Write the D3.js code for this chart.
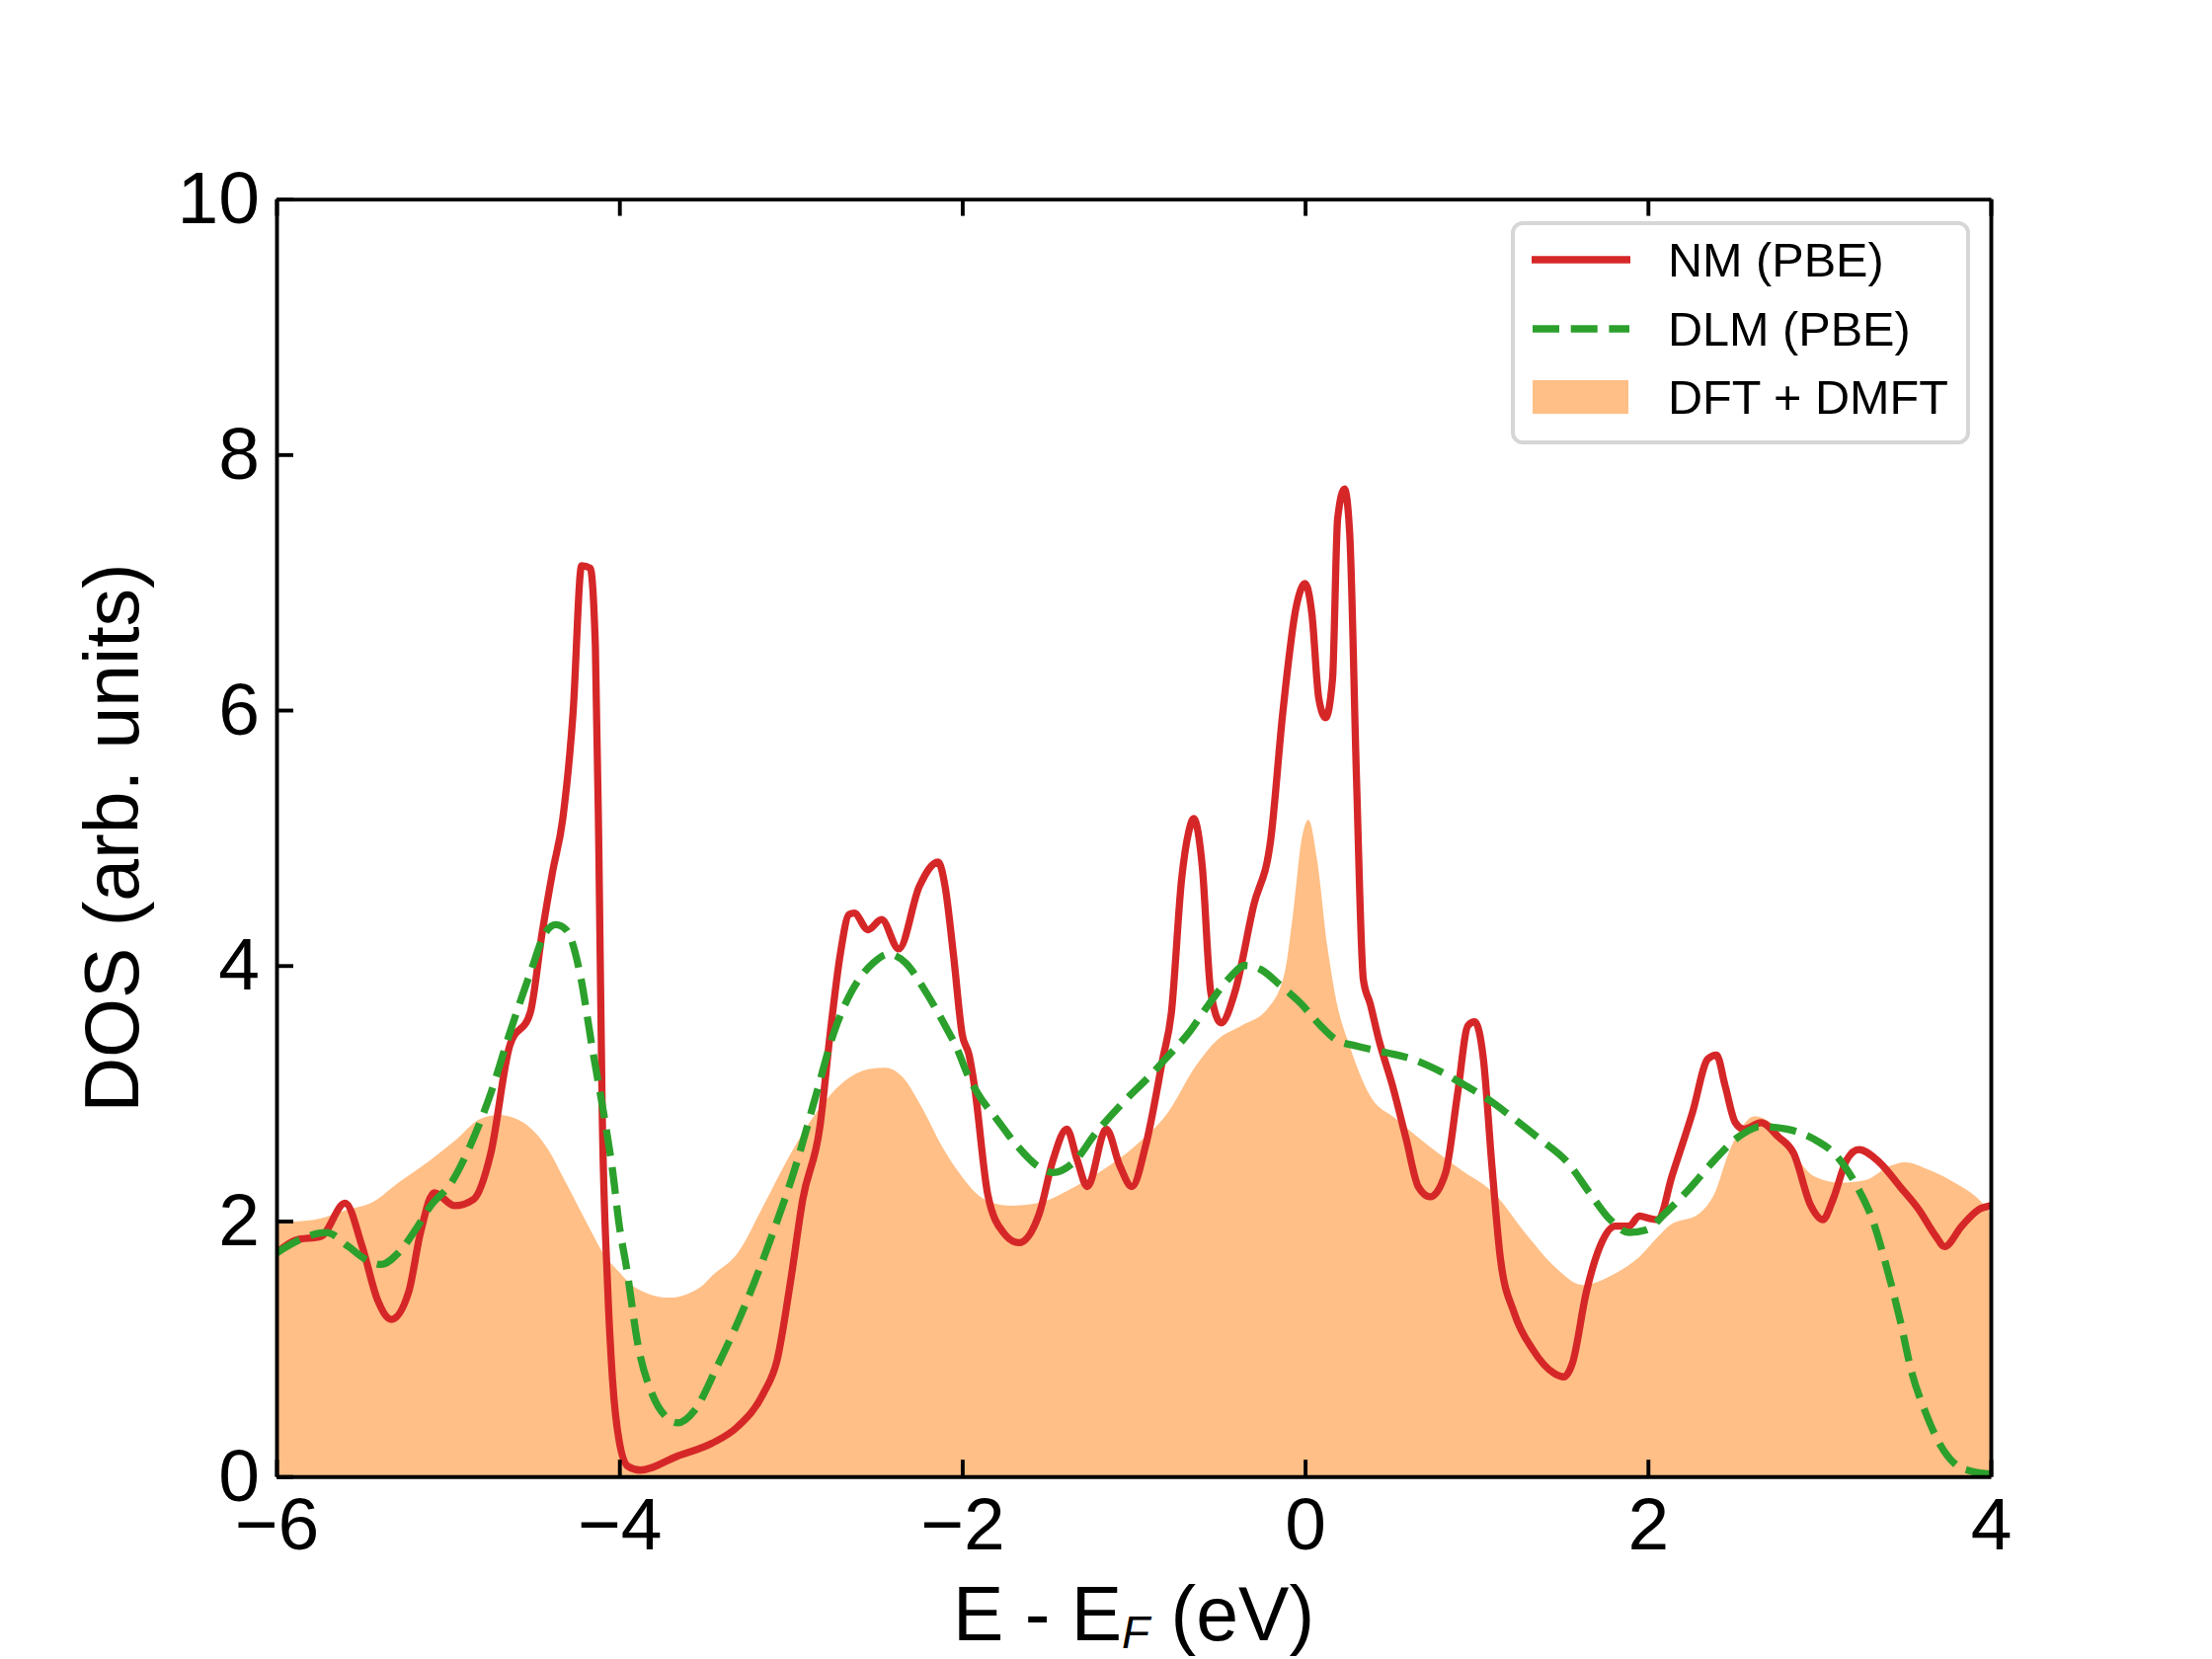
<!DOCTYPE html>
<html>
<head>
<meta charset="utf-8">
<script src="https://cdn.jsdelivr.net/npm/d3@7"></script>
<style>
  body { margin: 0; background: #fff; }
  text { font-family: 'Liberation Sans', Arial, Helvetica, sans-serif; }
</style>
</head>
<body>
<div id="vis"></div>
<script>
// NM (PBE) total DOS
var nmE = [-6.00, -5.89, -5.74, -5.60, -5.50, -5.41, -5.33, -5.23, -5.16, -5.08,
  -4.96, -4.85, -4.75, -4.64, -4.52, -4.45, -4.39, -4.33, -4.27, -4.22,
  -4.17, -4.14, -4.12, -4.10, -4.07, -4.04, -4.00, -3.95, -3.88, -3.66,
  -3.46, -3.31, -3.16, -3.08, -3.00, -2.93, -2.83, -2.77, -2.71, -2.66,
  -2.63, -2.55, -2.47, -2.37, -2.25, -2.14, -2.10, -2.05, -2.00, -1.96,
  -1.93, -1.85, -1.76, -1.67, -1.55, -1.47, -1.39, -1.33, -1.27, -1.16,
  -1.08, -1.01, -0.93, -0.83, -0.78, -0.72, -0.68, -0.65, -0.60, -0.55,
  -0.49, -0.41, -0.30, -0.20, -0.13, -0.05, 0.00, 0.04, 0.08, 0.12,
  0.16, 0.19, 0.23, 0.26, 0.30, 0.34, 0.38, 0.43, 0.51, 0.59,
  0.66, 0.73, 0.82, 0.89, 0.95, 0.99, 1.04, 1.09, 1.14, 1.22,
  1.33, 1.45, 1.51, 1.56, 1.64, 1.72, 1.81, 1.89, 1.95, 2.01,
  2.06, 2.14, 2.26, 2.35, 2.40, 2.45, 2.51, 2.56, 2.66, 2.76,
  2.85, 2.95, 3.02, 3.08, 3.16, 3.23, 3.35, 3.47, 3.58, 3.68,
  3.73, 3.83, 3.93, 4.00];
var nmDos = [1.75, 1.85, 1.88, 2.14, 1.80, 1.38, 1.23, 1.44, 1.91, 2.22,
  2.12, 2.17, 2.53, 3.37, 3.63, 4.26, 4.73, 5.15, 5.98, 7.13,
  7.11, 6.50, 4.94, 2.85, 1.54, 0.76, 0.27, 0.08, 0.05, 0.16,
  0.26, 0.39, 0.65, 0.91, 1.54, 2.17, 2.74, 3.47, 4.10, 4.40,
  4.41, 4.28, 4.36, 4.13, 4.62, 4.81, 4.62, 4.07, 3.46, 3.30,
  3.07, 2.20, 1.91, 1.83, 2.06, 2.48, 2.72, 2.48, 2.27, 2.72,
  2.43, 2.27, 2.59, 3.27, 3.63, 4.68, 5.04, 5.15, 4.78, 3.79,
  3.55, 3.79, 4.47, 4.99, 5.98, 6.82, 6.99, 6.75, 6.09, 5.94,
  6.24, 7.50, 7.73, 7.39, 5.46, 3.89, 3.70, 3.42, 3.06, 2.64,
  2.27, 2.19, 2.38, 3.00, 3.53, 3.56, 3.27, 2.43, 1.70, 1.28,
  0.99, 0.81, 0.78, 0.89, 1.44, 1.80, 1.96, 1.96, 2.04, 2.02,
  2.01, 2.35, 2.85, 3.27, 3.30, 3.06, 2.77, 2.72, 2.77, 2.66,
  2.53, 2.12, 2.01, 2.17, 2.48, 2.56, 2.46, 2.27, 2.09, 1.88,
  1.80, 1.96, 2.09, 2.12];

// DLM (PBE) total DOS
var dlmE = [-6.00, -5.87, -5.71, -5.58, -5.48, -5.39, -5.29, -5.19, -5.10, -4.98,
  -4.87, -4.75, -4.64, -4.52, -4.43, -4.37, -4.31, -4.23, -4.16, -4.08,
  -4.04, -4.00, -3.96, -3.89, -3.81, -3.73, -3.66, -3.56, -3.43, -3.27,
  -3.12, -2.96, -2.85, -2.75, -2.64, -2.52, -2.43, -2.33, -2.22, -2.10,
  -2.03, -1.97, -1.91, -1.80, -1.68, -1.56, -1.47, -1.35, -1.22, -1.06,
  -0.91, -0.80, -0.68, -0.57, -0.45, -0.35, -0.26, -0.14, -0.03, 0.09,
  0.18, 0.30, 0.47, 0.62, 0.76, 0.91, 1.07, 1.22, 1.37, 1.53,
  1.66, 1.78, 1.89, 1.99, 2.10, 2.24, 2.39, 2.53, 2.66, 2.81,
  2.97, 3.10, 3.22, 3.31, 3.39, 3.47, 3.54, 3.62, 3.70, 3.79,
  3.89, 4.00];
var dlmDos = [1.75, 1.85, 1.91, 1.80, 1.70, 1.66, 1.75, 1.93, 2.12, 2.30,
  2.59, 3.00, 3.47, 3.94, 4.26, 4.32, 4.28, 3.94, 3.37, 2.75,
  2.40, 1.96, 1.65, 1.02, 0.65, 0.47, 0.42, 0.52, 0.86, 1.33,
  1.85, 2.48, 3.00, 3.47, 3.81, 4.02, 4.09, 4.02, 3.81, 3.53,
  3.35, 3.15, 3.00, 2.80, 2.59, 2.43, 2.38, 2.46, 2.69, 2.93,
  3.13, 3.29, 3.47, 3.68, 3.89, 4.00, 3.97, 3.84, 3.71, 3.53,
  3.42, 3.37, 3.32, 3.27, 3.19, 3.08, 2.95, 2.80, 2.64, 2.46,
  2.22, 2.01, 1.91, 1.93, 2.06, 2.25, 2.48, 2.66, 2.74, 2.72,
  2.64, 2.51, 2.27, 2.01, 1.65, 1.23, 0.81, 0.50, 0.26, 0.10,
  0.04, 0.02];

// DFT + DMFT spectral function (filled)
var dmftE = [-6.00, -5.78, -5.58, -5.45, -5.29, -5.10, -4.95, -4.81, -4.70, -4.56,
  -4.43, -4.30, -4.18, -4.08, -4.00, -3.92, -3.71, -3.52, -3.46, -3.31,
  -3.16, -3.00, -2.85, -2.70, -2.54, -2.45, -2.35, -2.24, -2.12, -2.03,
  -1.87, -1.72, -1.56, -1.37, -1.18, -0.99, -0.80, -0.64, -0.51, -0.37,
  -0.22, -0.12, -0.07, -0.02, 0.02, 0.07, 0.13, 0.18, 0.26, 0.38,
  0.53, 0.72, 0.91, 1.10, 1.30, 1.45, 1.62, 1.81, 1.95, 2.06,
  2.12, 2.30, 2.39, 2.47, 2.55, 2.62, 2.74, 2.85, 2.97, 3.12,
  3.27, 3.41, 3.50, 3.64, 3.79, 3.93, 4.00];
var dmftDos = [1.99, 2.01, 2.09, 2.14, 2.30, 2.48, 2.64, 2.80, 2.83, 2.77,
  2.59, 2.27, 1.96, 1.72, 1.60, 1.49, 1.40, 1.49, 1.57, 1.75,
  2.12, 2.53, 2.85, 3.08, 3.19, 3.20, 3.13, 2.90, 2.59, 2.40,
  2.17, 2.12, 2.14, 2.25, 2.40, 2.59, 2.85, 3.21, 3.42, 3.53,
  3.66, 3.94, 4.41, 4.99, 5.14, 4.83, 4.15, 3.74, 3.37, 2.98,
  2.80, 2.59, 2.40, 2.22, 1.88, 1.65, 1.50, 1.59, 1.72, 1.88,
  1.96, 2.06, 2.22, 2.53, 2.74, 2.82, 2.74, 2.53, 2.35, 2.30,
  2.32, 2.43, 2.46, 2.40, 2.30, 2.17, 2.06];

var xTicks = [-6, -4, -2, 0, 2, 4];
var yTicks = [0, 2, 4, 6, 8, 10];
var seriesNames = ['NM (PBE)', 'DLM (PBE)', 'DFT + DMFT'];

// figure geometry (matplotlib-like 6.4x4.8 in at 350 dpi)
var width = 2240;
var height = 1680;
var margin = { top: 201.6, left: 280, bottom: 184.8, right: 224 };
var plotW = width - margin.left - margin.right;
var plotH = height - margin.top - margin.bottom;

var red = '#d62728';
var green = '#2ca02c';
var orange = '#ff7f0e';
var lw = 7.3;

var zip = function (xs, ys) {
  return xs.map(function (x, i) { return { e: x, v: ys[i] }; });
};

var svg = d3.select('#vis').append('svg')
  .attr('width', width)
  .attr('height', height);

var g = svg.append('g')
  .attr('transform', 'translate(' + margin.left + ',' + margin.top + ')');

var x = d3.scaleLinear().domain([-6, 4]).range([0, plotW]);
var y = d3.scaleLinear().domain([0, 10]).range([plotH, 0]);

g.append('clipPath').attr('id', 'clip')
  .append('rect').attr('width', plotW).attr('height', plotH);

var plot = g.append('g').attr('clip-path', 'url(#clip)');

// DMFT fill first so the lines sit on top
var area = d3.area()
  .x(function (d) { return x(d.e); })
  .y0(y(0))
  .y1(function (d) { return y(d.v); })
  .curve(d3.curveMonotoneX);

plot.append('path')
  .datum(zip(dmftE, dmftDos))
  .attr('d', area)
  .attr('fill', orange)
  .attr('fill-opacity', 0.5);

var line = d3.line()
  .x(function (d) { return x(d.e); })
  .y(function (d) { return y(d.v); })
  .curve(d3.curveMonotoneX);

plot.append('path')
  .datum(zip(nmE, nmDos))
  .attr('d', line)
  .attr('fill', 'none')
  .attr('stroke', red)
  .attr('stroke-width', lw)
  .attr('stroke-linejoin', 'round');

plot.append('path')
  .datum(zip(dlmE, dlmDos))
  .attr('d', line)
  .attr('fill', 'none')
  .attr('stroke', green)
  .attr('stroke-width', lw)
  .attr('stroke-dasharray', (3.7 * lw) + ',' + (1.6 * lw));

// axes, ticks pointing inward
var fmt = function (d) { return d < 0 ? '\u2212' + Math.abs(d) : '' + d; };

var xAxis = d3.axisBottom(x).tickValues(xTicks).tickFormat(fmt)
  .tickSizeInner(-17).tickSizeOuter(0).tickPadding(21);
var xAxisTop = d3.axisTop(x).tickValues(xTicks).tickFormat('')
  .tickSizeInner(-17).tickSizeOuter(0);
var yAxis = d3.axisLeft(y).tickValues(yTicks).tickFormat(fmt)
  .tickSizeInner(-17).tickSizeOuter(0).tickPadding(17);
var yAxisRight = d3.axisRight(y).tickValues([]).tickSizeOuter(0);

var styleAxis = function (sel) {
  sel.select('.domain').attr('stroke', '#000').attr('stroke-width', 3.9);
  sel.selectAll('.tick line').attr('stroke', '#000').attr('stroke-width', 3.9);
  sel.selectAll('.tick text')
    .attr('fill', '#000')
    .style('font-size', '75px')
    .style('font-family', "'Liberation Sans', Arial, Helvetica, sans-serif");
};

g.append('g').attr('class', 'x axis')
  .attr('transform', 'translate(0,' + plotH + ')')
  .call(xAxis).call(styleAxis);
g.append('g').attr('class', 'x axis top')
  .call(xAxisTop).call(styleAxis);
g.append('g').attr('class', 'y axis')
  .call(yAxis).call(styleAxis);
g.append('g').attr('class', 'y axis right')
  .attr('transform', 'translate(' + plotW + ',0)')
  .call(yAxisRight).call(styleAxis);

// axis labels
var xLabel = svg.append('text')
  .attr('x', margin.left + plotW / 2)
  .attr('y', 1661)
  .attr('text-anchor', 'middle')
  .style('font-size', '77px')
  .attr('fill', '#000');
xLabel.append('tspan').text('E - E');
xLabel.append('tspan')
  .attr('dy', 8)
  .style('font-size', '46px')
  .style('font-style', 'italic')
  .text('F');
xLabel.append('tspan')
  .attr('dy', -8)
  .text(' (eV)');

svg.append('text')
  .attr('transform', 'translate(140,' + (margin.top + plotH / 2) + ') rotate(-90)')
  .attr('text-anchor', 'middle')
  .style('font-size', '77px')
  .attr('fill', '#000')
  .text('DOS (arb. units)');

// legend
var legend = svg.append('g').attr('transform', 'translate(1532,226)');
legend.append('rect')
  .attr('width', 461)
  .attr('height', 222)
  .attr('rx', 10)
  .attr('fill', '#fff')
  .attr('fill-opacity', 0.8)
  .attr('stroke', '#d6d6d6')
  .attr('stroke-width', 4);

var rowY = [37, 107, 176];
legend.append('line')
  .attr('x1', 19).attr('x2', 119)
  .attr('y1', rowY[0]).attr('y2', rowY[0])
  .attr('stroke', red).attr('stroke-width', lw);
legend.append('line')
  .attr('x1', 20).attr('x2', 118)
  .attr('y1', rowY[1]).attr('y2', rowY[1])
  .attr('stroke', green).attr('stroke-width', lw)
  .attr('stroke-dasharray', (3.7 * lw) + ',' + (1.6 * lw));
legend.append('rect')
  .attr('x', 20).attr('y', rowY[2] - 17)
  .attr('width', 97).attr('height', 34)
  .attr('fill', orange).attr('fill-opacity', 0.5);

legend.selectAll('.legend-text').data(seriesNames)
  .enter().append('text')
  .attr('class', 'legend-text')
  .attr('x', 157)
  .attr('y', function (d, i) { return rowY[i] + 17; })
  .style('font-size', '48.6px')
  .attr('fill', '#000')
  .text(function (d) { return d; });
</script>
</body>
</html>
